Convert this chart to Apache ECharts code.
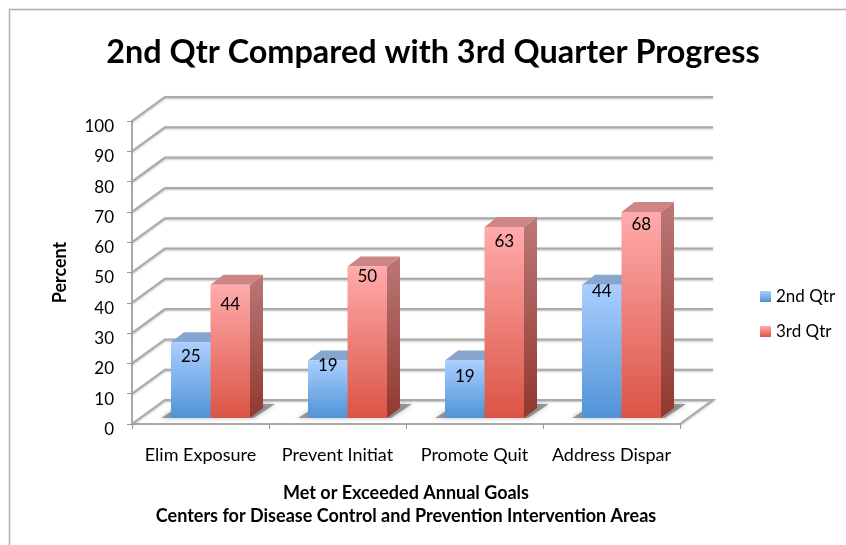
<!DOCTYPE html>
<html>
<head>
<meta charset="utf-8">
<title>2nd Qtr Compared with 3rd Quarter Progress</title>
<script src="https://cdn.jsdelivr.net/npm/echarts@6/dist/echarts.min.js"></script>
<style>
  html, body { margin: 0; padding: 0; background: #fff; }
  #main { width: 846px; height: 545px; }
</style>
</head>
<body>
<div id="main"></div>
<script>
const categories = ['Elim Exposure', 'Prevent Initiat', 'Promote Quit', 'Address Dispar']
const qtr2Values = [25, 19, 19, 44]
const qtr3Values = [44, 50, 63, 68]
const yTicks = [0, 10, 20, 30, 40, 50, 60, 70, 80, 90, 100]

// how far each value label sits below the top of its bar
const qtr2LabelDrop = [14, 5, 16, 7]
const qtr3LabelDrop = [20, 10, 14, 13]

const fontName = 'Lato, "Open Sans", sans-serif'
const wallDx = 33
const wallDy = -24
const barW = 39.5
const barStart = 39 // bar cluster start inside the category band
const barLift = 6 // bars stand a little behind the front edge of the floor
const depthX = 13
const depthY = -10

function vGrad(top, bottom) {
  return new echarts.graphic.LinearGradient(0, 0, 0, 1, [
    { offset: 0, color: top },
    { offset: 1, color: bottom }
  ])
}

const blueTheme = { front: ['#abcfff', '#4f93d6'], side: ['#7f9cc6', '#3f6ea5'], top: '#86a5cf' }
const redTheme = { front: ['#ffabab', '#db5445'], side: ['#bb7878', '#92382e'], top: '#cd8683' }

function renderWall(params, api) {
  const cs = params.coordSys
  const v = api.value(0)
  const y = api.coord([0, v])[1]
  const left = cs.x
  const right = cs.x + cs.width
  const pts = [[left, y], [left + wallDx, y + wallDy], [right + wallDx, y + wallDy]]
  // floor is closed off on the right side
  if (v === 0) pts.push([right, y])
  return {
    type: 'polyline',
    shape: { points: pts },
    silent: true,
    style: {
      fill: null,
      stroke: '#a9a9a9',
      lineWidth: 2,
      shadowColor: 'rgba(120,120,120,0.5)',
      shadowBlur: 2,
      shadowOffsetY: 1
    }
  }
}

function barRenderer(slot, theme, labelDrop) {
  return function (params, api) {
    const i = api.value(0)
    const band = api.size([1, 0])[0]
    const center = api.coord([i, 0])
    const topPt = api.coord([i, api.value(1)])
    const x0 = center[0] - band / 2 + barStart + slot * barW
    const x1 = x0 + barW
    const base = center[1] - barLift
    const top = topPt[1] - barLift
    const children = []

    if (slot === 0) {
      // soft shadow on the floor behind the pair of bars
      children.push({
        type: 'polygon',
        shape: {
          points: [
            [x0 - 10, base],
            [x0 + barW * 2 + 4, base],
            [x0 + barW * 2 + 25, base - 14],
            [x0 + 12, base - 14]
          ]
        },
        silent: true,
        style: { fill: 'rgba(100,100,100,0.6)', shadowColor: 'rgba(100,100,100,0.7)', shadowBlur: 5 }
      })
    }
    children.push({
      type: 'polygon',
      shape: { points: [[x1, top], [x1 + depthX, top + depthY], [x1 + depthX, base + depthY], [x1, base]] },
      style: { fill: vGrad(theme.side[0], theme.side[1]) }
    })
    children.push({
      type: 'polygon',
      shape: { points: [[x0, top], [x0 + depthX, top + depthY], [x1 + depthX, top + depthY], [x1, top]] },
      style: { fill: theme.top }
    })
    children.push({
      type: 'rect',
      shape: { x: x0, y: top, width: barW, height: base - top },
      style: { fill: vGrad(theme.front[0], theme.front[1]) }
    })
    children.push({
      type: 'text',
      z2: 10,
      style: {
        x: (x0 + x1) / 2,
        y: top + labelDrop[i],
        text: String(api.value(1)),
        fill: '#000',
        font: '17px ' + fontName,
        align: 'center',
        verticalAlign: 'middle'
      }
    })
    return { type: 'group', children }
  }
}

const chart = echarts.init(document.getElementById('main'), null, { renderer: 'canvas' })

chart.setOption({
  animation: false,
  backgroundColor: '#fff',
  textStyle: { fontFamily: fontName, color: '#000' },
  title: {
    text: '2nd Qtr Compared with 3rd Quarter Progress',
    left: 428,
    top: 32,
    textAlign: 'center',
    textStyle: { fontFamily: fontName, fontSize: 32.4, fontWeight: 'bold', color: '#000' }
  },
  legend: {
    orient: 'vertical',
    left: 760,
    top: 288,
    padding: 0,
    itemWidth: 11,
    itemHeight: 11,
    itemGap: 18,
    itemStyle: { borderWidth: 0 },
    icon: 'rect',
    data: ['2nd Qtr', '3rd Qtr'],
    textStyle: { fontFamily: fontName, fontSize: 17, color: '#000' }
  },
  grid: { left: 132, top: 121, width: 548, height: 303 },
  xAxis: {
    type: 'category',
    data: categories,
    axisLine: { lineStyle: { color: '#a9a9a9', width: 2 } },
    axisTick: { show: true, length: 5, alignWithLabel: false, lineStyle: { color: '#999', width: 1 } },
    axisLabel: { interval: 0, fontFamily: fontName, fontSize: 18, color: '#000', margin: 22 },
    name: 'Met or Exceeded Annual Goals\nCenters for Disease Control and Prevention Intervention Areas',
    nameLocation: 'middle',
    nameGap: 58,
    nameTextStyle: { fontFamily: fontName, fontSize: 18, fontWeight: 'bold', color: '#000', lineHeight: 23 }
  },
  yAxis: {
    type: 'value',
    min: 0,
    max: 100,
    interval: 10,
    axisLine: { show: true, lineStyle: { color: '#a9a9a9', width: 2 } },
    axisTick: { show: true, length: 5, lineStyle: { color: '#999', width: 1 } },
    splitLine: { show: false },
    axisLabel: { fontFamily: fontName, fontSize: 17, color: '#000', margin: 18, verticalAlign: 'top', lineHeight: 11 },
    name: 'Percent',
    nameLocation: 'middle',
    nameGap: 63,
    nameTextStyle: { fontFamily: fontName, fontSize: 18, fontWeight: 'bold', color: '#000' }
  },
  graphic: [
    {
      type: 'polyline',
      silent: true,
      shape: { points: [[9.5, 545], [9.5, 9.5], [846, 9.5]] },
      style: { fill: null, stroke: '#b0b0b0', lineWidth: 1.5 }
    }
  ],
  series: [
    {
      name: 'walls',
      type: 'custom',
      coordinateSystem: 'cartesian2d',
      renderItem: renderWall,
      data: yTicks.map(v => [v]),
      encode: { y: 0 },
      silent: true,
      z: 1
    },
    {
      name: '2nd Qtr',
      type: 'custom',
      coordinateSystem: 'cartesian2d',
      renderItem: barRenderer(0, blueTheme, qtr2LabelDrop),
      data: qtr2Values.map((v, i) => [i, v]),
      encode: { x: 0, y: 1 },
      itemStyle: { color: vGrad(blueTheme.front[0], blueTheme.front[1]) },
      z: 3
    },
    {
      name: '3rd Qtr',
      type: 'custom',
      coordinateSystem: 'cartesian2d',
      renderItem: barRenderer(1, redTheme, qtr3LabelDrop),
      data: qtr3Values.map((v, i) => [i, v]),
      encode: { x: 0, y: 1 },
      itemStyle: { color: vGrad(redTheme.front[0], redTheme.front[1]) },
      z: 4
    }
  ]
})
</script>
</body>
</html>
